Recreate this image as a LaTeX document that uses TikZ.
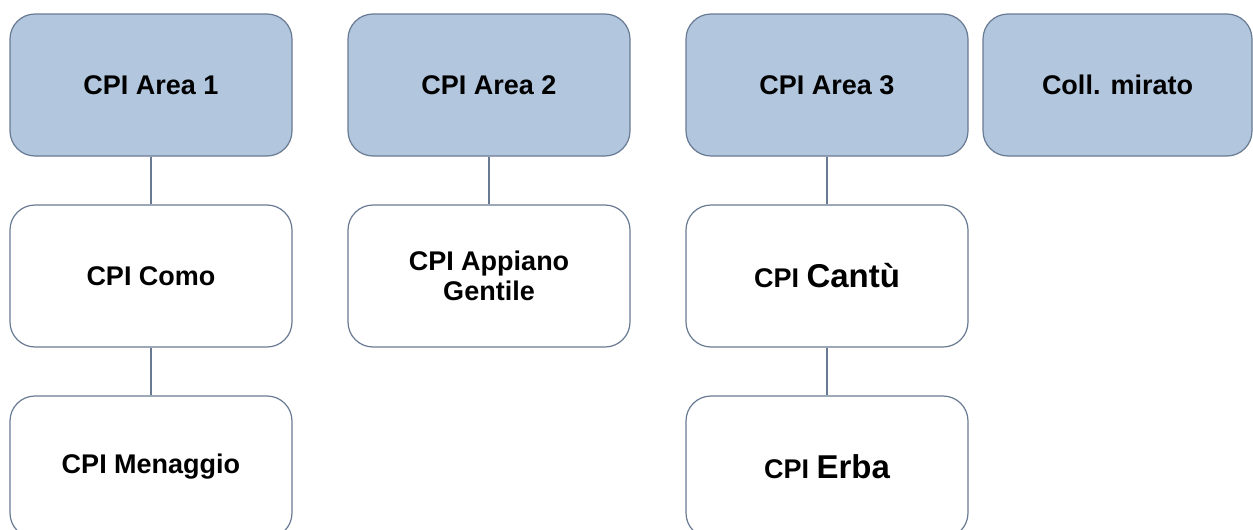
\documentclass[tikz,border=0pt]{standalone}
\usepackage{fontspec}
\setmainfont{Liberation Sans}
\definecolor{areafill}{RGB}{178,198,221}
\definecolor{edgecol}{RGB}{104,122,146}
\begin{document}
\begin{tikzpicture}[x=0.5pt,y=-0.5pt,font=\fontsize{13.5}{15}\selectfont\bfseries,
	box/.style={draw=edgecol,line width=0.6pt,rounded corners=12.5pt,minimum width=141pt,minimum height=71pt,align=center,text=black},
	area/.style={box,fill=areafill},
	link/.style={draw=edgecol,line width=0.6pt}]
	\useasboundingbox (0,0) rectangle (1253,530);
	\clip (0,0) rectangle (1253,530);
	\foreach \n/\x/\t in {A1/151/CPI Area 1,A2/489/CPI Area 2,A3/827/CPI Area 3}{
		\node[area] (\n) at (\x,85) {\t};
	}
	\node[area,minimum width=134.5pt] (CM) at (1117.5,85) {Coll. mirato};
	\node[box] (Como) at (151,276) {CPI Como};
	\node[box] (Appiano) at (489,276) {CPI Appiano\\Gentile};
	\node[box] (Cantu) at (827,276) {CPI {\fontsize{16.5}{18}\selectfont Cantù}};
	\node[box] (Menaggio) at (151,467) {CPI Menaggio};
	\node[box] (Erba) at (827,467) {CPI {\fontsize{16.5}{18}\selectfont Erba}};
	\draw[link] (A1)--(Como);
	\draw[link] (Como)--(Menaggio);
	\draw[link] (A2)--(Appiano);
	\draw[link] (A3)--(Cantu);
	\draw[link] (Cantu)--(Erba);
\end{tikzpicture}
\end{document}
